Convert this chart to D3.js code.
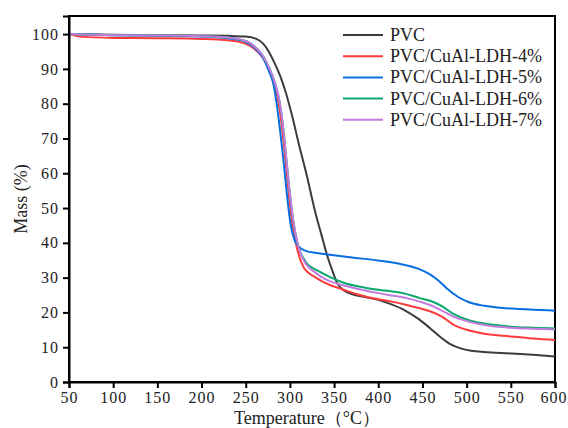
<!DOCTYPE html>
<html><head><meta charset="utf-8">
<script src="https://cdn.jsdelivr.net/npm/d3@7"></script>
<style>body{margin:0;background:#fff}svg{display:block}</style>
</head><body>
<svg id="c" width="568" height="428"></svg>
<script>
const seriesNames = ["PVC","PVC/CuAl-LDH-4%","PVC/CuAl-LDH-5%","PVC/CuAl-LDH-6%","PVC/CuAl-LDH-7%"];
const seriesColors = ["#3c3c3c","#ff3a3a","#0a6ee0","#0aa86a","#c47ade"];

const tempPVC = [50,100,150,200,230,250,262,270,276,282,289,295,302,310,319,328,336,342,348,354,360,370,385,400,415,430,445,458,470,482,494,505,520,550,575,600];
const massPVC = [100,99.8,99.7,99.6,99.5,99.3,98.6,97.2,95,92,88,83.5,77,68.5,59.5,49.5,42,36.5,32,28.2,26.5,25.3,24.4,23.6,22.3,20.6,18.2,15.6,13,10.8,9.6,9.0,8.6,8.2,7.8,7.3];

const temp4 = [50,65,100,150,200,230,245,255,263,270,277,283,288,292,296,300,304,308,312,316,321,328,336,346,360,375,390,400,415,430,447,460,472,485,500,520,550,575,600];
const mass4 = [100,99.2,98.9,98.8,98.6,98.2,97.6,96.6,95,93,89.5,85,79,71,61,51,43.5,38.5,35,32.8,31.4,30.2,29,27.8,26.6,25.3,24.3,23.8,23.1,22.3,21.2,20.2,18.8,16.5,15,13.9,13.1,12.5,12.1];

const temp5 = [50,100,150,200,230,245,255,263,270,276,281,285,289,293,297,301,305,309,313,318,330,345,370,400,425,445,458,468,478,490,502,520,545,575,600];
const mass5 = [100,99.7,99.5,99.3,98.8,98.2,97,95.3,93,89.5,86,80,72,63,53,45,41,39.2,38.3,37.7,37.1,36.6,35.8,34.9,33.9,32.6,31,29.2,26.8,24.5,23,21.9,21.2,20.8,20.5];

const temp6 = [50,100,150,200,230,245,255,263,270,277,283,288,292,296,300,304,308,312,316,320,327,335,345,360,385,410,430,447,460,472,485,500,520,550,575,600];
const mass6 = [100,99.7,99.6,99.4,99,98.4,97.4,95.7,93.5,90,86,81,74,64,54,46,40.5,37.2,35.3,33.8,32.6,31.5,30.2,28.6,27.1,26.2,25.4,24.1,23.2,21.8,19.6,18,16.8,15.9,15.6,15.4];

const temp7 = [50,100,150,200,230,245,255,263,270,277,283,288,292,296,300,304,308,312,316,320,327,335,345,360,385,410,430,447,460,472,485,500,520,550,575,600];
const mass7 = [100,99.7,99.6,99.4,99,98.4,97.4,95.7,93.5,90,86,81,74,64,54,46,40.5,37,34.8,33.3,31.8,30.3,29,27.8,26.3,25.1,24.2,23.1,22,20.5,18.8,17.5,16.4,15.6,15.3,15.1];

const xTicks = [50,100,150,200,250,300,350,400,450,500,550,600];
const yTicks = [0,10,20,30,40,50,60,70,80,90,100];

const temps = [tempPVC,temp4,temp5,temp6,temp7];
const masses = [massPVC,mass4,mass5,mass6,mass7];

const W=568,H=428, m={l:69,t:16,r:13,b:46};
const svg=d3.select("#c");
const x=d3.scaleLinear().domain([50,600]).range([m.l,W-m.r]);
const y=d3.scaleLinear().domain([0,105.2]).range([H-m.b,m.t]);
const font="'Liberation Serif','Times New Roman',serif";

svg.append("rect").attr("x",m.l).attr("y",m.t).attr("width",W-m.r-m.l).attr("height",H-m.b-m.t)
  .attr("fill","none").attr("stroke","#000").attr("stroke-width",2);

const line=d3.line().x(d=>x(d[0])).y(d=>y(d[1])).curve(d3.curveMonotoneX);
const g=svg.append("g");
seriesNames.forEach((n,i)=>{
  const pts=temps[i].map((t,j)=>[t,masses[i][j]]);
  g.append("path").datum(pts).attr("d",line).attr("fill","none")
   .attr("stroke",seriesColors[i]).attr("stroke-width",2);
});

const xa=svg.append("g").attr("transform",`translate(0,${H-m.b})`)
  .call(d3.axisBottom(x).tickValues(xTicks).tickSize(6).tickPadding(4).tickFormat(d3.format("d")));
const ya=svg.append("g").attr("transform",`translate(${m.l},0)`)
  .call(d3.axisLeft(y).tickValues(yTicks).tickSize(6).tickPadding(4).tickFormat(d3.format("d")));
[xa,ya].forEach(a=>{
  a.select(".domain").attr("stroke","#000").attr("stroke-width",2);
  a.selectAll(".tick line").attr("stroke","#000").attr("stroke-width",2);
  a.selectAll("text").attr("font-family",font).attr("font-size",16).attr("fill","#222").attr("letter-spacing",1);
});
xa.selectAll(".tick text").filter(d=>d===600).attr("text-anchor","end").attr("dx",12);

svg.append("text").attr("x",307).attr("y",424).attr("text-anchor","middle")
  .attr("font-family",font).attr("font-size",18).attr("fill","#222").text("Temperature（°C）");
svg.append("text").attr("transform",`translate(27,${(m.t+H-m.b)/2}) rotate(-90)`).attr("text-anchor","middle")
  .attr("font-family",font).attr("font-size",18).attr("fill","#222").text("Mass (%)");

const lg=svg.append("g");
seriesNames.forEach((n,i)=>{
  const yy=35+i*21.2;
  lg.append("line").attr("x1",343).attr("x2",383).attr("y1",yy).attr("y2",yy)
    .attr("stroke",seriesColors[i]).attr("stroke-width",2);
  lg.append("text").attr("x",390).attr("y",yy+6).attr("font-family",font).attr("font-size",18)
    .attr("fill","#222").text(n);
});
</script>
</body></html>
